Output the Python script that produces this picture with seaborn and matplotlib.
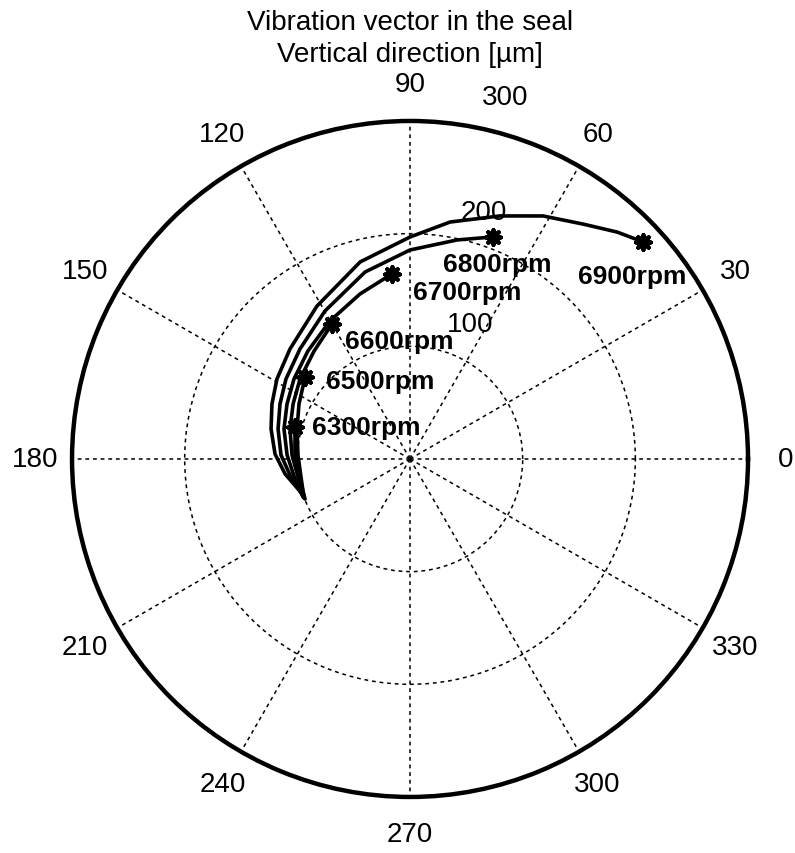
import numpy as np
import pandas as pd
import seaborn as sns
import matplotlib
matplotlib.use("Agg")
import matplotlib.pyplot as plt

# Vibration vector traces (angle in deg, amplitude in um), one per speed
rpm_labels = ["6300rpm", "6500rpm", "6600rpm", "6700rpm", "6800rpm", "6900rpm"]

theta_6300 = [200.9, 189.2, 177.5, 164.4]
r_6300 = [99.7, 99.8, 102.2, 106.0]

theta_6500 = [200.2, 189.4, 178.0, 165.1, 153.6, 142.0]
r_6500 = [100.2, 98.1, 99.5, 103.8, 110.0, 118.2]

theta_6600 = [200.2, 189.1, 178.1, 166.0, 154.8, 144.0, 131.6, 120.0]
r_6600 = [100.2, 100.7, 104.8, 109.8, 114.7, 120.7, 128.2, 138.4]

theta_6700 = [199.6, 188.3, 178.1, 166.6, 155.9, 145.4, 133.4, 120.1, 106.9, 95.6]
r_6700 = [100.8, 104.1, 109.2, 115.0, 119.6, 125.1, 131.9, 141.6, 153.0, 165.0]

theta_6800 = [199.1, 187.6, 178.2, 167.2, 157.1, 147.2, 135.0, 119.9, 103.5, 90.0, 77.9, 69.5]
r_6800 = [100.5, 107.5, 114.6, 120.1, 125.3, 131.0, 138.1, 151.5, 170.7, 185.5, 198.8, 210.4]

theta_6900 = [199.2, 186.8, 177.9, 167.8, 158.3, 149.0, 137.5, 121.3, 104.2, 90.0,
              80.4, 69.7, 61.3, 53.6, 47.6, 43.0]
r_6900 = [99.7, 111.7, 119.9, 126.2, 131.9, 137.8, 144.5, 158.9, 180.4, 197.0,
          213.3, 230.0, 245.9, 259.0, 272.7, 282.6]

thetas = [theta_6300, theta_6500, theta_6600, theta_6700, theta_6800, theta_6900]
radii = [r_6300, r_6500, r_6600, r_6700, r_6800, r_6900]

# label offsets from the end marker, in pixels
label_dx = [17, 21, 13, 21, -50, -65]
label_dy = [0, -4, -17, -18, -27, -34]

angle_ticks = [0, 30, 60, 90, 120, 150, 180, 210, 240, 270, 300, 330]
r_ticks = [100, 200, 300]
r_max = 300

rows = []
for lab, th, rr in zip(rpm_labels, thetas, radii):
    for t, r in zip(th, rr):
        rows.append({"rpm": lab, "theta": np.deg2rad(t), "r": r})
df = pd.DataFrame(rows)
ends = df.groupby("rpm", sort=False).tail(1).reset_index(drop=True)

sns.set_style("white")
plt.rcParams["font.family"] = ["Liberation Sans", "DejaVu Sans"]
plt.rcParams["text.color"] = "black"

fig = plt.figure(figsize=(7.95, 8.54), dpi=100)
ax = fig.add_axes([0.0906, 0.0656, 0.8503, 0.7916], projection="polar")

sns.lineplot(data=df, x="theta", y="r", units="rpm", estimator=None, sort=False,
             color="k", linewidth=2.6, ax=ax)
sns.scatterplot(data=ends, x="theta", y="r", marker=(8, 2, 0), s=110, color="k",
                linewidth=3.0, ax=ax, zorder=5)

ax.set_ylim(0, r_max)
ax.set_thetagrids(angle_ticks, labels=[""] * len(angle_ticks))
ax.set_rgrids(r_ticks[:-1], labels=[""] * (len(r_ticks) - 1))
ax.grid(True, color="k", linestyle=(0, (2.5, 2.5)), linewidth=1.1)
ax.spines["polar"].set_linewidth(3.2)
ax.spines["polar"].set_color("k")
ax.set_xlabel("")
ax.set_ylabel("")

for a in angle_ticks:
    ax.text(np.deg2rad(a), 333, str(a), ha="center", va="center", fontsize=20,
            color="k")

r_label_pos = [(66.0, 131), (73.3, 229), (75.3, 332)]
for rt, (a, rr) in zip(r_ticks, r_label_pos):
    ax.text(np.deg2rad(a), rr, str(rt), ha="center", va="center", fontsize=20,
            color="k")

for i, row in ends.iterrows():
    ax.annotate(row["rpm"], xy=(row["theta"], row["r"]), xycoords="data",
                xytext=(label_dx[i], label_dy[i]), textcoords="offset pixels",
                ha="left", va="center", fontsize=19, fontweight="bold", color="k")

fig.text(410 / 795, 1 - 23 / 854, "Vibration vector in the seal", ha="center",
         va="center", fontsize=20, color="k")
fig.text(410 / 795, 1 - 55 / 854, "Vertical direction [\u00b5m]", ha="center",
         va="center", fontsize=20, color="k")

fig.savefig("out.png", dpi=100)
